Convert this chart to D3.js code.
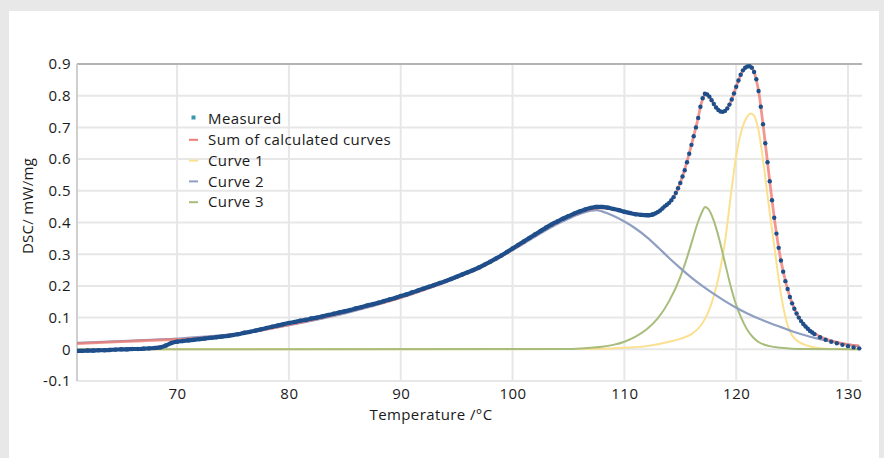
<!DOCTYPE html>
<html><head><meta charset="utf-8">
<script src="https://cdn.jsdelivr.net/npm/d3@7"></script>
<style>
html,body{margin:0;padding:0;background:#e8e8e8;}
svg{display:block;font-family:"Open Sans","Noto Sans",sans-serif;}
</style></head>
<body>
<svg id="chart" width="884" height="458"></svg>
<script>
// ---------------- DATA ----------------
const xTicks = [70, 80, 90, 100, 110, 120, 130];
const yTicks = [-0.1, 0, 0.1, 0.2, 0.3, 0.4, 0.5, 0.6, 0.7, 0.8, 0.9];
const yTickLabels = ["-0.1", "0", "0.1", "0.2", "0.3", "0.4", "0.5", "0.6", "0.7", "0.8", "0.9"];
const legendLabels = ["Measured", "Sum of calculated curves", "Curve 1", "Curve 2", "Curve 3"];

const measuredTemp = [61,61.5,62,62.5,63,63.5,64,64.5,65,65.5,66,66.5,67,67.5,68,68.5,69,69.5,70,70.5,71,71.5,72,72.5,73,73.5,74,74.5,75,75.5,76,76.5,77,77.5,78,78.5,79,79.5,80,80.5,81,81.5,82,82.5,83,83.5,84,84.5,85,85.5,86,86.5,87,87.5,88,88.5,89,89.5,90,90.5,91,91.5,92,92.5,93,93.5,94,94.5,95,95.5,96,96.5,97,97.5,98,98.5,99,99.5,100,100.5,101,101.5,102,102.5,103,103.5,104,104.5,105,105.5,106,106.5,107,107.5,108,108.5,109,109.5,110,110.5,111,111.5,
112,112.2,112.4,112.6,112.8,113,113.2,113.4,113.6,113.8,114,114.2,114.4,114.6,114.8,115,115.2,115.4,115.6,115.8,116,116.2,116.4,116.6,116.8,117,117.2,117.4,117.6,117.8,118,118.2,118.4,118.6,118.8,119,119.2,119.4,119.6,119.8,120,120.2,120.4,120.6,120.8,121,121.2,121.4,121.6,121.8,122,122.2,122.4,122.6,122.8,123,123.2,123.4,123.6,123.8,124,124.2,124.4,124.6,124.8,125,125.2,125.4,125.6,125.8,126,126.2,126.4,126.6,126.8,127,127.5,128,128.5,129,129.5,130,130.5,131];
const measuredDSC = [-0.005,-0.005,-0.004,-0.004,-0.003,-0.003,-0.002,-0.001,0,0,0.001,0.001,0.002,0.003,0.004,0.006,0.012,0.02,0.024,0.026,0.028,0.03,0.032,0.034,0.036,0.038,0.04,0.042,0.045,0.048,0.052,0.055,0.059,0.063,0.067,0.071,0.075,0.079,0.083,0.086,0.09,0.093,0.097,0.1,0.104,0.108,0.112,0.116,0.12,0.124,0.129,0.133,0.138,0.142,0.147,0.152,0.157,0.162,0.168,0.173,0.179,0.185,0.191,0.197,0.203,0.209,0.215,0.222,0.229,0.236,0.243,0.25,0.258,0.267,0.276,0.286,0.296,0.307,0.318,0.329,0.34,0.351,0.362,0.373,0.384,0.394,0.403,0.412,0.42,0.428,0.435,0.441,0.446,0.449,0.449,0.447,0.443,0.439,0.434,0.43,0.426,0.424,
0.423,0.423,0.424,0.426,0.429,0.433,0.438,0.444,0.451,0.456,0.462,0.47,0.48,0.493,0.508,0.525,0.545,0.565,0.59,0.617,0.645,0.672,0.7,0.73,0.765,0.792,0.806,0.804,0.797,0.786,0.774,0.763,0.755,0.75,0.749,0.752,0.76,0.772,0.788,0.807,0.828,0.848,0.866,0.88,0.888,0.892,0.893,0.888,0.875,0.852,0.815,0.765,0.71,0.65,0.59,0.53,0.47,0.415,0.365,0.32,0.28,0.245,0.215,0.19,0.165,0.145,0.128,0.113,0.1,0.089,0.08,0.072,0.065,0.058,0.053,0.048,0.038,0.03,0.024,0.019,0.014,0.01,0.006,0.003];

const sumTemp = [61,63,65,67,69,71,73,75,77,79,81,83,85,87,89,91,93,95,97,99,100,101,102,103,104,105,106,107,108,109,110,111,112,113,114,114.5,115,115.5,116,116.5,117,117.3,117.6,118,118.5,118.8,119,119.5,120,120.5,121,121.3,121.6,122,122.5,123,123.5,124,124.5,125,125.5,126,127,128,129,130,131];
const sumDSC = [0.018,0.021,0.024,0.027,0.03,0.033,0.038,0.046,0.057,0.07,0.085,0.1,0.117,0.135,0.153,0.175,0.2,0.227,0.256,0.293,0.315,0.337,0.36,0.382,0.401,0.418,0.432,0.442,0.446,0.442,0.434,0.427,0.424,0.433,0.462,0.486,0.525,0.58,0.645,0.715,0.79,0.805,0.797,0.774,0.752,0.749,0.752,0.78,0.828,0.873,0.892,0.892,0.875,0.815,0.68,0.53,0.39,0.28,0.202,0.145,0.106,0.08,0.05,0.032,0.022,0.015,0.01];

const curve1Temp = [61,100,105,108,110,112,113,114,115,116,116.5,117,117.5,118,118.5,119,119.5,120,120.5,121,121.3,121.6,122,122.5,123,123.5,124,124.5,125,126,127,128,131];
const curve1DSC = [0,0,0.001,0.002,0.005,0.01,0.016,0.024,0.033,0.048,0.062,0.083,0.117,0.168,0.24,0.34,0.48,0.61,0.693,0.735,0.744,0.737,0.69,0.57,0.43,0.3,0.175,0.088,0.044,0.016,0.006,0.002,0];

const curve2Temp = [61,65,70,75,80,85,90,95,100,102,104,105,106,107,107.5,108,109,110,111,112,113,114,115,116,117,118,119,120,121,122,123,124,125,126,127,128,129,130,131];
const curve2DSC = [0.02,0.026,0.034,0.048,0.076,0.113,0.163,0.226,0.313,0.355,0.395,0.412,0.427,0.437,0.439,0.435,0.421,0.403,0.381,0.354,0.322,0.288,0.256,0.226,0.199,0.175,0.152,0.131,0.113,0.097,0.083,0.07,0.057,0.046,0.036,0.028,0.021,0.015,0.011];

const curve3Temp = [61,105,107,108,109,110,111,112,113,114,115,115.5,116,116.5,117,117.2,117.5,118,118.5,119,119.5,120,120.5,121,121.5,122,123,124,125,126,131];
const curve3DSC = [0,0.001,0.005,0.008,0.014,0.024,0.04,0.063,0.098,0.152,0.228,0.278,0.335,0.393,0.437,0.449,0.443,0.405,0.345,0.272,0.2,0.14,0.095,0.061,0.038,0.023,0.01,0.005,0.002,0.001,0];

// ---------------- CHART ----------------
const svg = d3.select("#chart");
const W = 884, H = 458;
const m = {left: 77, right: 862, top: 64, bottom: 381};
const FONT = "'Open Sans','Noto Sans',sans-serif";

svg.append("rect").attr("x", 9).attr("y", 11).attr("width", 870).attr("height", H - 11).attr("fill", "#ffffff");

const x = d3.scaleLinear().domain([61.05, 131.25]).range([m.left, m.right]);
const y = d3.scaleLinear().domain([-0.1, 0.9]).range([m.bottom, m.top]);

svg.append("defs").append("clipPath").attr("id", "plotclip").append("rect")
  .attr("x", m.left).attr("y", m.top - 5).attr("width", m.right - m.left).attr("height", m.bottom - m.top + 5);

// grid
const grid = svg.append("g");
grid.selectAll("line.h").data(yTicks).join("line")
  .attr("x1", m.left).attr("x2", m.right)
  .attr("y1", d => y(d)).attr("y2", d => y(d))
  .attr("stroke", "#e7e7e7").attr("stroke-width", 2);
grid.selectAll("line.v").data(xTicks).join("line")
  .attr("x1", d => x(d)).attr("x2", d => x(d))
  .attr("y1", m.top).attr("y2", m.bottom)
  .attr("stroke", "#e7e7e7").attr("stroke-width", 2);

// frame lines
svg.append("line").attr("x1", m.left).attr("x2", m.right).attr("y1", y(0.9)).attr("y2", y(0.9))
  .attr("stroke", "#b4b4b4").attr("stroke-width", 2);
svg.append("line").attr("x1", m.left).attr("x2", m.left).attr("y1", m.top).attr("y2", m.bottom)
  .attr("stroke", "#cfcfcf").attr("stroke-width", 2);

// axes (labels only)
const yAxis = d3.axisLeft(y).tickValues(yTicks).tickSize(0).tickPadding(6)
  .tickFormat((d, i) => yTickLabels[i]);
const gy = svg.append("g").attr("transform", `translate(${m.left},0)`).call(yAxis);
gy.select(".domain").remove();
gy.selectAll("text").attr("font-size", 15).attr("letter-spacing", "0.5px").attr("fill", "#1a1a1a")
  .attr("font-family", FONT);

const xAxis = d3.axisBottom(x).tickValues(xTicks).tickSize(0).tickPadding(7).tickFormat(d3.format("d"));
const gx = svg.append("g").attr("transform", `translate(0,${m.bottom})`).call(xAxis);
gx.select(".domain").remove();
gx.selectAll("text").attr("font-size", 15).attr("letter-spacing", "0.5px").attr("fill", "#1a1a1a")
  .attr("font-family", FONT);

svg.append("text").attr("x", 431).attr("y", 420).attr("text-anchor", "middle")
  .attr("font-size", 15).attr("letter-spacing", "0.4px").attr("fill", "#1a1a1a").text("Temperature /°C");
svg.append("text").attr("transform", "translate(33,206) rotate(-90)").attr("text-anchor", "middle")
  .attr("font-size", 15).attr("letter-spacing", "0.3px").attr("fill", "#1a1a1a").text("DSC/ mW/mg");

// series
const plot = svg.append("g").attr("clip-path", "url(#plotclip)");
const lineGen = (T, V) => d3.line().x((d, i) => x(T[i])).y((d, i) => y(V[i])).curve(d3.curveMonotoneX)(V);

const colC1 = "#fbe08f", colC2 = "#8f9fc2", colC3 = "#a8bd7c", colSum = "#ef7c74", colMeas = "#1f4f8b";

plot.append("path").attr("d", lineGen(curve1Temp, curve1DSC)).attr("fill", "none")
  .attr("stroke", colC1).attr("stroke-width", 2);
plot.append("path").attr("d", lineGen(curve3Temp, curve3DSC)).attr("fill", "none")
  .attr("stroke", colC3).attr("stroke-width", 2);
plot.append("path").attr("d", lineGen(curve2Temp, curve2DSC)).attr("fill", "none")
  .attr("stroke", colC2).attr("stroke-width", 2.2);
plot.append("path").attr("d", lineGen(sumTemp, sumDSC)).attr("fill", "none")
  .attr("stroke", colSum).attr("stroke-width", 2.8).attr("opacity", 0.8);

// measured: dense band where points overlap, dots everywhere
const bandIdx = measuredTemp.map((t, i) => i).filter(i => measuredTemp[i] <= 112.6);
const bandLine = d3.line().x(i => x(measuredTemp[i])).y(i => y(measuredDSC[i])).curve(d3.curveMonotoneX);
plot.append("path").attr("d", bandLine(bandIdx)).attr("fill", "none")
  .attr("stroke", colMeas).attr("stroke-width", 4.2).attr("stroke-linecap", "round");
plot.selectAll("circle.m").data(measuredDSC).join("circle")
  .attr("cx", (d, i) => x(measuredTemp[i])).attr("cy", d => y(d))
  .attr("r", 2.2).attr("fill", colMeas);

// legend
const leg = svg.append("g");
const legColors = [colMeas, colSum, colC1, colC2, colC3];
legendLabels.forEach((lab, i) => {
  const yy = 119 + i * 20.8;
  if (i === 0) {
    leg.append("rect").attr("x", 191.5).attr("y", yy - 3.5).attr("width", 4).attr("height", 4).attr("fill", "#3a98ad");
  } else {
    leg.append("line").attr("x1", 189).attr("x2", 198).attr("y1", yy).attr("y2", yy)
      .attr("stroke", legColors[i]).attr("stroke-width", 2);
  }
  leg.append("text").attr("x", 208).attr("y", yy).attr("dy", "0.35em")
    .attr("font-size", 15).attr("letter-spacing", "0.4px").attr("fill", "#1a1a1a")
    .attr("font-family", FONT).text(lab);
});
</script>
</body></html>
